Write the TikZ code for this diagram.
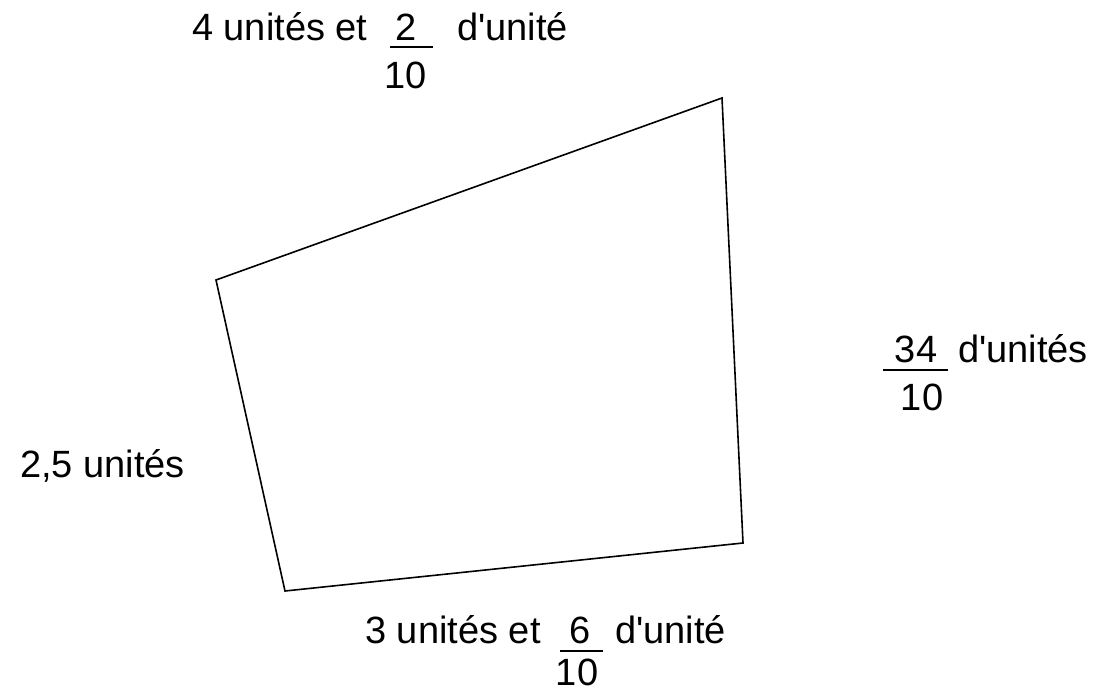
\documentclass[tikz,border=0pt]{standalone}
\usepackage{fontspec}
\setmainfont{Liberation Sans}
\newcommand{\apos}{\textquotesingle}
\begin{document}
\begin{tikzpicture}[x=1pt,y=-1pt,
  lbl/.style={anchor=base west,inner sep=0pt,font=\fontsize{38}{42}\selectfont},
  lblc/.style={anchor=base,inner sep=0pt,font=\fontsize{38}{42}\selectfont},
  edge/.style={line width=1.6pt,line join=miter},
  fracbar/.style={line width=1.6pt}]
\useasboundingbox (0,0) rectangle (1095,692);
% quadrilateral
\coordinate (A) at (216,280);
\coordinate (B) at (722,98);
\coordinate (C) at (743,543);
\coordinate (D) at (285,591);
\draw[edge] (A) -- (B) -- (C) -- (D) -- cycle;
% top label
\node[lbl] (t1) at (192,41) {4 unités et};
\node[lblc] (t2) at (406,41) {2};
\draw[fracbar] (390,47) -- (433,47);
\node[lblc] (t3) at (406,89) {10};
\node[lbl] (t4) at (457,41) {d\apos unité};
% right label
\node[lblc] (r1) at (916,363) {34};
\draw[fracbar] (883,370) -- (948,370);
\node[lblc] (r2) at (922,410) {10};
\node[lbl] (r3) at (958,363) {d\apos unités};
% left label
\node[lbl] (l1) at (20,477) {2,5 unités};
% bottom label
\node[lblc] (b1) at (453,643) {3 unités et};
\node[lblc] (b2) at (580,643) {6};
\draw[fracbar] (560,651) -- (603,651);
\node[lblc] (b3) at (577,685) {10};
\node[lbl] (b4) at (615,643) {d\apos unité};
\end{tikzpicture}
\end{document}
